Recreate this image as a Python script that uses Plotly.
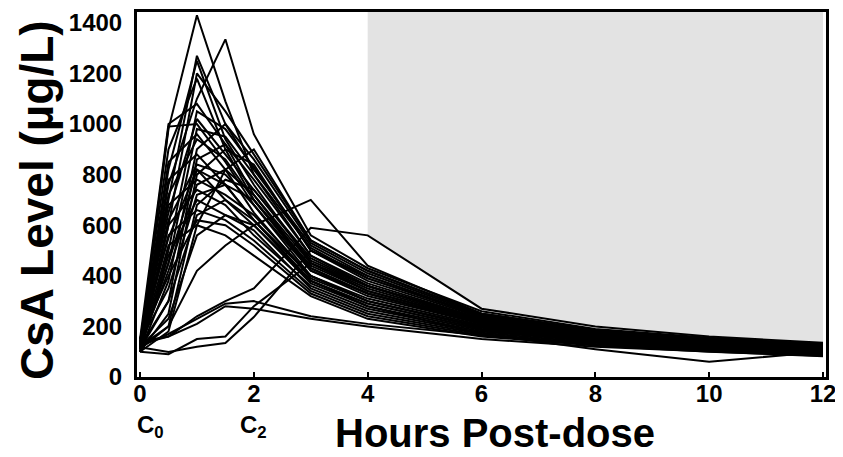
import plotly.graph_objects as go

hours = [0, 0.5, 1, 1.5, 2, 3, 4, 6, 8, 10, 12]

patients = [
    [120, 980, 1430, 1090, 800, 480, 360, 230, 170, 140, 120],
    [110, 700, 1270, 1000, 820, 520, 400, 240, 180, 150, 125],
    [130, 820, 1250, 940, 760, 450, 340, 220, 165, 135, 115],
    [100, 600, 1200, 1050, 880, 540, 420, 250, 185, 150, 130],
    [140, 900, 1180, 900, 700, 420, 320, 210, 160, 130, 110],
    [120, 990, 1000, 850, 680, 400, 300, 200, 150, 125, 105],
    [110, 760, 1100, 1335, 960, 560, 430, 260, 190, 155, 130],
    [150, 1000, 1080, 920, 720, 430, 330, 215, 160, 130, 110],
    [100, 500, 1050, 980, 830, 500, 380, 235, 175, 145, 120],
    [130, 650, 1020, 880, 740, 470, 360, 225, 170, 140, 118],
    [120, 450, 980, 950, 800, 510, 390, 240, 180, 150, 125],
    [110, 850, 960, 820, 650, 390, 300, 200, 150, 120, 100],
    [140, 720, 940, 860, 700, 440, 340, 215, 165, 135, 112],
    [100, 380, 900, 1000, 860, 530, 410, 245, 185, 150, 128],
    [130, 780, 880, 760, 620, 380, 290, 190, 145, 118, 98],
    [120, 300, 860, 920, 780, 480, 370, 230, 175, 142, 120],
    [110, 620, 840, 800, 680, 420, 330, 210, 160, 130, 110],
    [150, 550, 820, 700, 600, 370, 280, 185, 140, 115, 95],
    [100, 250, 800, 900, 840, 500, 390, 240, 180, 145, 122],
    [130, 680, 780, 720, 640, 400, 310, 205, 155, 125, 105],
    [120, 420, 760, 820, 720, 450, 350, 220, 165, 135, 115],
    [110, 600, 740, 680, 560, 360, 270, 180, 140, 112, 92],
    [140, 350, 720, 760, 700, 430, 330, 210, 160, 130, 110],
    [100, 480, 700, 640, 580, 350, 260, 175, 135, 110, 90],
    [120, 200, 680, 780, 740, 460, 360, 225, 170, 138, 116],
    [130, 560, 660, 620, 540, 340, 250, 170, 130, 105, 88],
    [110, 300, 640, 700, 620, 400, 300, 195, 150, 122, 102],
    [150, 400, 620, 600, 520, 330, 240, 165, 128, 104, 86],
    [100, 180, 600, 820, 900, 540, 420, 250, 185, 150, 128],
    [120, 230, 560, 640, 600, 380, 290, 190, 145, 118, 98],
    [110, 200, 420, 520, 600, 700, 440, 250, 185, 150, 125],
    [130, 160, 240, 300, 350, 590, 560, 270, 200, 160, 135],
    [120, 170, 230, 290, 300, 240, 210, 165, 130, 105, 88],
    [118, 99, 120, 134, 237, 500, 400, 240, 180, 145, 120],
    [100, 90, 150, 160, 280, 450, 360, 220, 165, 135, 112],
    [110, 450, 820, 760, 620, 380, 280, 170, 110, 60, 100],
    [140, 160, 210, 280, 270, 230, 200, 150, 120, 100, 82],
    [120, 520, 600, 560, 480, 320, 230, 160, 125, 100, 84],
]

x_ticks = [0, 2, 4, 6, 8, 10, 12]
y_ticks = [0, 200, 400, 600, 800, 1000, 1200, 1400]
shade_start = 4
y_top = 1443

FONT = "Liberation Sans, Arial, Helvetica, sans-serif"

fig = go.Figure()

# grey region above the curves, from 4 h onward
idx = [i for i, h in enumerate(hours) if h >= shade_start]
env = [max(p[i] for p in patients) for i in idx]
sx = [hours[i] for i in idx] + [hours[idx[-1]], hours[idx[0]]]
sy = env + [y_top, y_top]
fig.add_trace(go.Scatter(x=sx, y=sy, fill="toself", fillcolor="#e3e3e3",
                         line=dict(width=0), mode="lines",
                         hoverinfo="skip", showlegend=False))

for p in patients:
    fig.add_trace(go.Scatter(x=hours, y=p, mode="lines",
                             line=dict(color="black", width=2.0),
                             hoverinfo="skip", showlegend=False))

# page body has an 8px margin; figure sized to fit the 843x457 window
OFF = 8
W, H = 843 - OFF, 457 - OFF
# plot frame in page pixels
FL, FR, FT, FB = 137, 826, 12, 377
L, R, T, B = FL - OFF, W - (FR - OFF), FT - OFF, H - (FB - OFF)
pw, ph = W - L - R, H - T - B

def px(xp):
    return (xp - FL) / pw

def py(yp):
    return (FB - yp) / ph

fig.update_layout(
    width=W, height=H,
    margin=dict(l=L, r=R, t=T, b=B, autoexpand=False),
    paper_bgcolor="white", plot_bgcolor="white",
    font=dict(family=FONT, color="black"),
    xaxis=dict(range=[-0.053, 12.053], tickvals=x_ticks, ticktext=[str(v) for v in x_ticks],
               ticks="inside", ticklen=5, tickwidth=2, tickcolor="black",
               showline=True, linecolor="black", linewidth=3, mirror=True,
               showgrid=False, zeroline=False, automargin=False, ticklabelstandoff=-7,
               tickfont=dict(size=24, family=FONT, weight="bold", color="black")),
    yaxis=dict(range=[0, y_top], tickvals=y_ticks, ticktext=[str(v) for v in y_ticks],
               ticks="", showline=True, linecolor="black", linewidth=3, mirror=True,
               showgrid=False, zeroline=False, ticklabelstandoff=7, automargin=False,
               tickfont=dict(size=24, family=FONT, weight="bold", color="black")),
    annotations=[
        dict(text="CsA Level (µg/L)", xref="paper", yref="paper", x=px(37), y=py(200),
             textangle=-90, showarrow=False, xanchor="center", yanchor="middle",
             font=dict(size=46, family=FONT, weight="bold", color="black")),
        dict(text="Hours Post-dose", xref="paper", yref="paper", x=px(495), y=py(433),
             showarrow=False, xanchor="center", yanchor="middle",
             font=dict(size=40, family=FONT, weight="bold", color="black")),
        dict(text="C<sub>0</sub>", xref="paper", yref="paper", x=px(150), y=py(426),
             showarrow=False, xanchor="center", yanchor="middle",
             font=dict(size=24, family=FONT, weight="bold", color="black")),
        dict(text="C<sub>2</sub>", xref="paper", yref="paper", x=px(253), y=py(426),
             showarrow=False, xanchor="center", yanchor="middle",
             font=dict(size=24, family=FONT, weight="bold", color="black")),
    ],
)

fig.write_html("out.html")
